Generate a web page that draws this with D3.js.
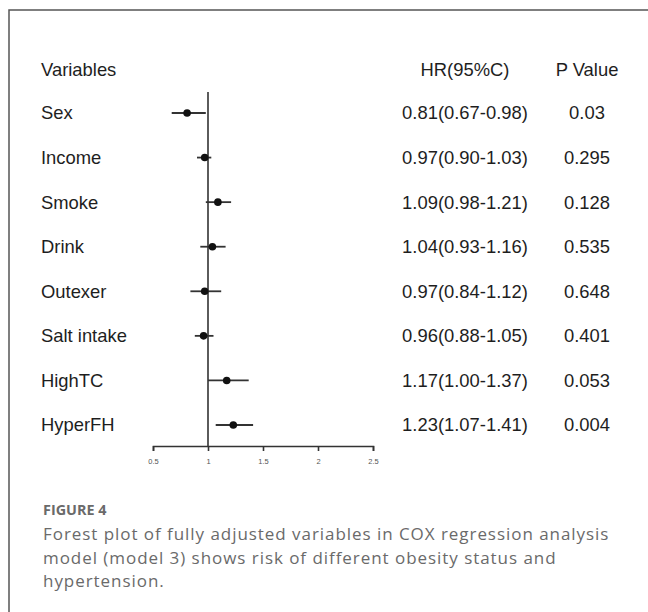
<!DOCTYPE html>
<head>
  <meta charset="utf-8">
  <script src="https://d3js.org/d3.v7.min.js"></script>
  <style>
    body { margin: 0; background: #fff; }
    .tbl { font-family: 'Liberation Sans', Arial, sans-serif; font-size: 18.4px; fill: #1e1e1e; }
    .cap { font-family: 'Open Sans', sans-serif; fill: #6a6a6a; }
    .axis text { font-family: 'Liberation Sans', Arial, sans-serif; font-size: 7.5px; fill: #555; }
    .axis path, .axis line { stroke: #333; stroke-width: 1.6px; }
  </style>
</head>
<body>
  <div id="chart"></div>
  <script>
    // values
    var variables = ["Sex", "Income", "Smoke", "Drink", "Outexer", "Salt intake", "HighTC", "HyperFH"];
    var hr = [0.81, 0.97, 1.09, 1.04, 0.97, 0.96, 1.17, 1.23];
    var lower = [0.67, 0.90, 0.98, 0.93, 0.84, 0.88, 1.00, 1.07];
    var upper = [0.98, 1.03, 1.21, 1.16, 1.12, 1.05, 1.37, 1.41];
    var pValues = ["0.03", "0.295", "0.128", "0.535", "0.648", "0.401", "0.053", "0.004"];
    var tickValues = [0.5, 1, 1.5, 2, 2.5];
    var tickLabels = ["0.5", "1", "1.5", "2", "2.5"];
    var headers = ["Variables", "HR(95%C)", "P Value"];
    var captionTitle = "FIGURE 4";
    var captionLines = [
      "Forest plot of fully adjusted variables in COX regression analysis",
      "model (model 3) shows risk of different obesity status and",
      "hypertension."
    ];

    var w = 648, h = 612;

    var svg = d3.select("#chart")
      .append("svg")
      .attr("width", w)
      .attr("height", h);

    // frame (runs off the right and bottom edges)
    svg.append("rect")
      .attr("x", 9).attr("y", 10)
      .attr("width", 800).attr("height", 800)
      .attr("fill", "none")
      .attr("stroke", "#555")
      .attr("stroke-width", 1.5);

    var x = d3.scaleLinear().domain([0.5, 2.5]).range([153, 373]);
    var y = d3.scalePoint().domain(variables).range([113, 425]);

    var rows = variables.map(function (v, i) {
      return { name: v, hr: hr[i], lo: lower[i], hi: upper[i], p: pValues[i] };
    });

    // header row
    var g = svg.append("g").attr("class", "tbl");
    g.append("text").attr("x", 41).attr("y", 70).attr("dy", "0.35em").text(headers[0]);
    g.append("text").attr("x", 465).attr("y", 70).attr("dy", "0.35em").attr("text-anchor", "middle").text(headers[1]);
    g.append("text").attr("x", 587).attr("y", 70).attr("dy", "0.35em").attr("text-anchor", "middle").text(headers[2]);

    g.selectAll(".lab").data(rows).enter().append("text")
      .attr("x", 41).attr("y", function (d) { return y(d.name); })
      .attr("dy", "0.35em")
      .text(function (d) { return d.name; });

    g.selectAll(".hrt").data(rows).enter().append("text")
      .attr("x", 465).attr("y", function (d) { return y(d.name); })
      .attr("dy", "0.35em").attr("text-anchor", "middle")
      .text(function (d) { return d.hr.toFixed(2) + "(" + d.lo.toFixed(2) + "-" + d.hi.toFixed(2) + ")"; });

    g.selectAll(".pt").data(rows).enter().append("text")
      .attr("x", 587).attr("y", function (d) { return y(d.name); })
      .attr("dy", "0.35em").attr("text-anchor", "middle")
      .text(function (d) { return d.p; });

    // axis
    var axisY = 446;
    svg.append("g")
      .attr("class", "axis")
      .attr("transform", "translate(0," + axisY + ")")
      .call(d3.axisBottom(x).tickValues(tickValues)
        .tickFormat(function (d, i) { return tickLabels[i]; })
        .tickSize(5).tickSizeOuter(5).tickPadding(8));

    // reference line at HR = 1
    svg.append("line")
      .attr("x1", x(1)).attr("x2", x(1))
      .attr("y1", 92).attr("y2", axisY)
      .attr("stroke", "#333").attr("stroke-width", 1.6);

    // CI lines and points
    svg.selectAll(".ci").data(rows).enter().append("line")
      .attr("x1", function (d) { return x(d.lo); })
      .attr("x2", function (d) { return x(d.hi); })
      .attr("y1", function (d) { return y(d.name); })
      .attr("y2", function (d) { return y(d.name); })
      .attr("stroke", "#333").attr("stroke-width", 1.8);

    svg.selectAll(".dot").data(rows).enter().append("circle")
      .attr("cx", function (d) { return x(d.hr); })
      .attr("cy", function (d) { return y(d.name); })
      .attr("r", 3.8)
      .attr("fill", "#111");

    // caption
    svg.append("text").attr("class", "cap")
      .attr("x", 43).attr("y", 515)
      .style("font-size", "14.4px").style("font-weight", "bold")
      .text(captionTitle);

    svg.selectAll(".capline").data(captionLines).enter().append("text")
      .attr("class", "cap")
      .attr("x", 43)
      .attr("y", function (d, i) { return 540 + i * 23.5; })
      .style("font-size", "17px")
      .style("letter-spacing", "0.95px")
      .text(function (d) { return d; });
  </script>
</body>
</html>
